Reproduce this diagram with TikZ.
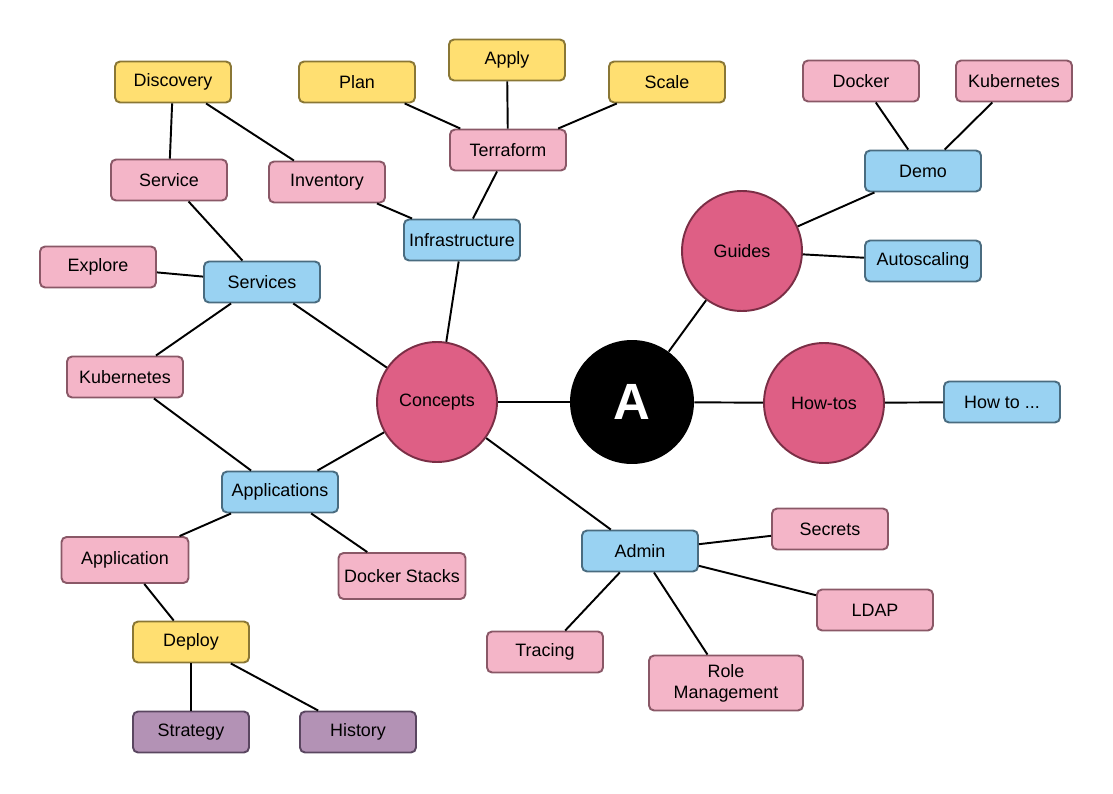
\documentclass[tikz,border=0pt]{standalone}
\usepackage{fontspec}
\setmainfont{Liberation Sans}
\begin{document}
\begin{tikzpicture}[x=0.02cm,y=-0.02cm,
  font=\fontsize{10.2}{12}\selectfont,
  box/.style={draw, rounded corners=0.1cm, line width=1.1pt, minimum width=2.32cm, minimum height=0.82cm, inner sep=0pt, align=center},
  ybox/.style={box, fill=yfill, draw=ydraw},
  pbox/.style={box, fill=pfill, draw=pdraw},
  bbox/.style={box, fill=bfill, draw=bdraw},
  vbox/.style={box, fill=vfill, draw=vdraw},
  topic/.style={circle, fill=cfill, draw=cdraw, line width=1.1pt, minimum size=2.4cm, inner sep=0pt},
  link/.style={line width=1.1pt, black}]
\definecolor{yfill}{HTML}{FFDF71}
\definecolor{ydraw}{HTML}{8A7735}
\definecolor{pfill}{HTML}{F4B5C8}
\definecolor{pdraw}{HTML}{8A5867}
\definecolor{bfill}{HTML}{99D2F2}
\definecolor{bdraw}{HTML}{4A6C80}
\definecolor{vfill}{HTML}{B392B5}
\definecolor{vdraw}{HTML}{5A4660}
\definecolor{cfill}{HTML}{DE5F85}
\definecolor{cdraw}{HTML}{7A2E45}
\useasboundingbox (0,0) rectangle (1113,794);
% circles
\node[circle, fill=black, minimum size=2.48cm, inner sep=0pt, text=white, font=\fontsize{29}{30}\selectfont\bfseries] (A) at (632,402) {A};
\node[topic] (concepts) at (437,402) {Concepts};
\node[topic] (guides) at (742,251) {Guides};
\node[topic] (howtos) at (824,403) {How-tos};
% yellow
\node[ybox] (discovery) at (173,82) {Discovery};
\node[ybox] (plan) at (357,82) {Plan};
\node[ybox] (apply) at (507,60) {Apply};
\node[ybox] (scale) at (667,82) {Scale};
\node[ybox] (deploy) at (191,642) {Deploy};
% pink
\node[pbox] (terraform) at (508,150) {Terraform};
\node[pbox] (service) at (169,180) {Service};
\node[pbox] (inventory) at (327,182) {Inventory};
\node[pbox] (explore) at (98,267) {Explore};
\node[pbox] (kubl) at (125,377) {Kubernetes};
\node[pbox, minimum width=2.54cm, minimum height=0.92cm] (application) at (125,560) {Application};
\node[pbox, minimum width=2.54cm, minimum height=0.92cm] (dockerstacks) at (402,576) {Docker Stacks};
\node[pbox] (docker) at (861,81) {Docker};
\node[pbox] (kubr) at (1014,81) {Kubernetes};
\node[pbox] (secrets) at (830,529) {Secrets};
\node[pbox] (ldap) at (875,610) {LDAP};
\node[pbox] (tracing) at (545,652) {Tracing};
\node[pbox, minimum width=3.08cm, minimum height=1.1cm] (role) at (726,683) {Role\\Management};
% blue
\node[bbox] (infra) at (462,240) {Infrastructure};
\node[bbox] (services) at (262,282) {Services};
\node[bbox] (applications) at (280,492) {Applications};
\node[bbox] (admin) at (640,551) {Admin};
\node[bbox] (demo) at (923,171) {Demo};
\node[bbox] (autoscaling) at (923,261) {Autoscaling};
\node[bbox] (howto) at (1002,402) {How to ...};
% purple
\node[vbox] (strategy) at (191,732) {Strategy};
\node[vbox] (history) at (358,732) {History};
% links
\draw[link] (A) -- (concepts);
\draw[link] (A) -- (guides);
\draw[link] (A) -- (howtos);
\draw[link] (howtos) -- (howto);
\draw[link] (guides) -- (demo);
\draw[link] (guides) -- (autoscaling);
\draw[link] (demo) -- (docker);
\draw[link] (demo) -- (kubr);
\draw[link] (concepts) -- (infra);
\draw[link] (concepts) -- (services);
\draw[link] (concepts) -- (applications);
\draw[link] (concepts) -- (admin);
\draw[link] (infra) -- (terraform);
\draw[link] (infra) -- (inventory);
\draw[link] (terraform) -- (plan);
\draw[link] (terraform) -- (apply);
\draw[link] (terraform) -- (scale);
\draw[link] (inventory) -- (discovery);
\draw[link] (services) -- (service);
\draw[link] (services) -- (explore);
\draw[link] (services) -- (kubl);
\draw[link] (service) -- (discovery);
\draw[link] (applications) -- (kubl);
\draw[link] (applications) -- (application);
\draw[link] (applications) -- (dockerstacks);
\draw[link] (application) -- (deploy);
\draw[link] (deploy) -- (strategy);
\draw[link] (deploy) -- (history);
\draw[link] (admin) -- (secrets);
\draw[link] (admin) -- (ldap);
\draw[link] (admin) -- (tracing);
\draw[link] (admin) -- (role);
\end{tikzpicture}
\end{document}
